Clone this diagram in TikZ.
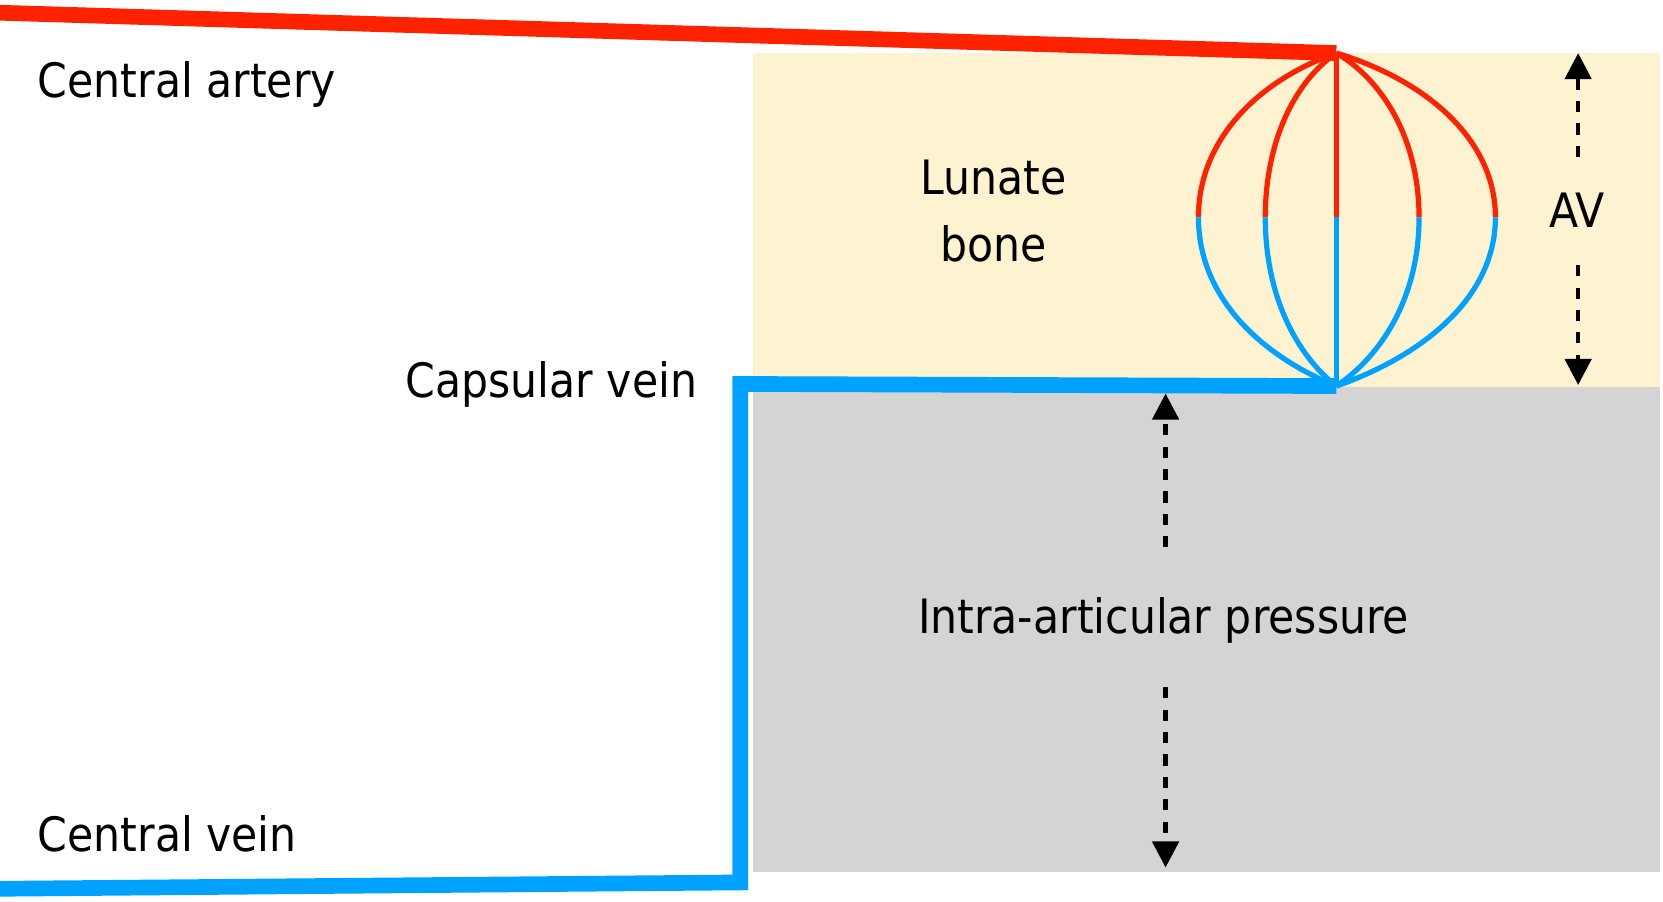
\documentclass[tikz,border=0pt]{standalone}
\usepackage{fontspec}
\setmainfont{DejaVu Sans Condensed}
\usetikzlibrary{arrows.meta}
\definecolor{artred}{HTML}{FF2200}
\definecolor{veinblue}{HTML}{00A2FF}
\definecolor{bonefill}{HTML}{FDF3D0}
\definecolor{jointfill}{HTML}{D4D4D4}
\tikzset{
  label/.style = {font=\fontsize{12.7}{16}\selectfont, inner sep=0pt},
  vessel/.style = {line width=4.2pt, line join=miter},
  capillary/.style = {line width=1.4pt},
  pressure/.style = {line width=1.2pt, dash pattern=on 3pt off 3pt, -{Triangle[length=7pt,width=7pt]}}
}
\begin{document}
\begin{tikzpicture}[x=0.01cm, y=-0.01cm]
\useasboundingbox (0,0) rectangle (1568,850);
% bone and joint space
\fill[bonefill] (710,50) rectangle (1565,365);
\fill[jointfill] (710,365) rectangle (1565,822);
\coordinate (apex) at (1260,50);
\coordinate (base) at (1260,364);
% capillaries
\foreach \x in {1130,1193,1260,1338,1410} {
  \draw[capillary, artred] (apex) .. controls ({1260+0.55*(\x-1260)},75) and (\x,130) .. (\x,205);
  \draw[capillary, veinblue] (\x,205) .. controls (\x,280) and ({1260+0.55*(\x-1260)},335) .. (base);
}
% vessels
\draw[vessel, artred] (0,12) -- (apex);
\draw[vessel, veinblue] (0,838) -- (698,832) -- (698,362) -- (base);
% labels
\node[label, anchor=west] (artery) at (35,80) {Central artery};
\node[label] (capsular) at (520,362) {Capsular vein};
\node[label, anchor=west] (cvein) at (35,786) {Central vein};
\node[label, align=center] (lunate) at (937,199) {Lunate\\[2pt]bone};
\node[label] (av) at (1487,198) {AV};
\node[label] (iap) at (1097,585) {Intra-articular pressure};
\coordinate (avtop) at (1488,50);
\coordinate (avbot) at (1488,363);
\coordinate (iaptop) at (1099,371);
\coordinate (iapbot) at (1099,818);
% pressure arrows
\draw[pressure] (1488,148) -- (avtop);
\draw[pressure] (1488,250) -- (avbot);
\draw[pressure] (1099,516) -- (iaptop);
\draw[pressure] (1099,648) -- (iapbot);
\end{tikzpicture}
\end{document}
